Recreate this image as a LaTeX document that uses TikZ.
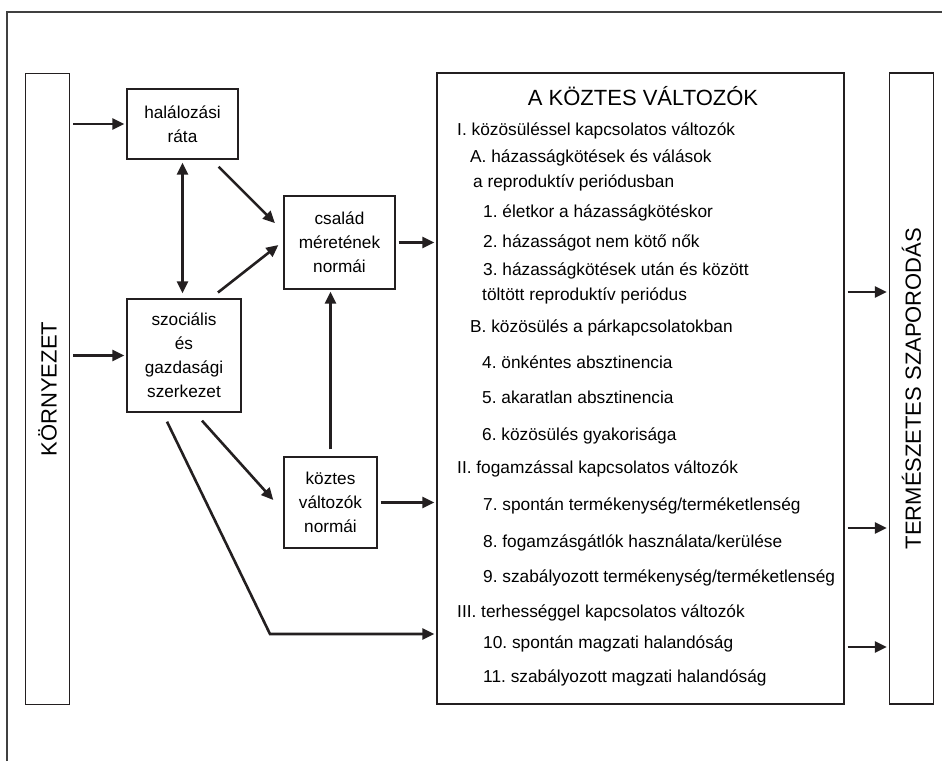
\documentclass[tikz,border=0pt]{standalone}
\usepackage{fontspec}
\setmainfont{Liberation Sans}
\usetikzlibrary{arrows.meta,positioning}
\definecolor{linegrey}{RGB}{35,31,32}
\frenchspacing

\begin{document}
\begin{tikzpicture}[x=1pt, y=-1pt,
    box/.style={rectangle, draw=linegrey, line width=1.3pt, align=center,
                font=\fontsize{17.2}{24}\selectfont, inner sep=0pt},
    side/.style={rectangle, draw=linegrey, line width=1.3pt, minimum width=44pt,
                minimum height=631pt, font=\fontsize{22}{26}\selectfont, inner sep=0pt},
    item/.style={anchor=base west, inner sep=0pt, font=\fontsize{17.3}{20}\selectfont},
    arr/.style={-{Triangle[length=12pt,width=11pt]}, line width=2.6pt, linegrey,
                shorten <=3pt, shorten >=2pt},
    frame/.style={line width=1.3pt, draw=black!75}
]
    \useasboundingbox (0,0) rectangle (942,761);
    \draw[frame] (7,761) -- (7,12) -- (942,12);

    % boxes
    \node[side] (env) at (47.5,389) {\rotatebox{90}{KÖRNYEZET}};
    \node[box, minimum width=111pt, minimum height=70pt]  (halal)  at (182.5,124)   {halálozási\\ráta};
    \node[box, minimum width=111pt, minimum height=93pt]  (csalad) at (339.5,242.5) {család\\méretének\\normái};
    \node[box, minimum width=114pt, minimum height=113pt] (szoc)   at (184,355.5)   {szociális\\és\\gazdasági\\szerkezet};
    \node[box, minimum width=93pt,  minimum height=91pt]  (koztes) at (330.5,502.5) {köztes\\változók\\normái};
    \node[box, minimum width=407pt, minimum height=631pt] (main)   at (640.5,388.5) {};
    \node[side] (term) at (911.5,388.5) {\rotatebox{90}{TERMÉSZETES SZAPORODÁS}};

    % list of the intermediate variables
    \node[anchor=base, inner sep=0pt, font=\fontsize{22}{26}\selectfont] (title) at (643,105) {A KÖZTES VÁLTOZÓK};
    \node[item] (grpI)   at (457,135) {I. közösüléssel kapcsolatos változók};
    \node[item] (subA)   at (470,162) {A. házasságkötések és válások};
    \node[item] (subAb)  at (473,187) {a reproduktív periódusban};
    \node[item] (v1)     at (483,217) {1. életkor a házasságkötéskor};
    \node[item] (v2)     at (483,247) {2. házasságot nem kötő nők};
    \node[item] (v3)     at (483,275) {3. házasságkötések után és között};
    \node[item] (v3b)    at (482,300) {töltött reproduktív periódus};
    \node[item] (subB)   at (470,332) {B. közösülés a párkapcsolatokban};
    \node[item] (v4)     at (482,368) {4. önkéntes absztinencia};
    \node[item] (v5)     at (482,403) {5. akaratlan absztinencia};
    \node[item] (v6)     at (482,440) {6. közösülés gyakorisága};
    \node[item] (grpII)  at (457,473) {II. fogamzással kapcsolatos változók};
    \node[item] (v7)     at (483,510) {7. spontán termékenység/terméketlenség};
    \node[item] (v8)     at (483,547) {8. fogamzásgátlók használata/kerülése};
    \node[item] (v9)     at (483,582) {9. szabályozott termékenység/terméketlenség};
    \node[item] (grpIII) at (457,617) {III. terhességgel kapcsolatos változók};
    \node[item] (v10)    at (483,648) {10. spontán magzati halandóság};
    \node[item] (v11)    at (483,682) {11. szabályozott magzati halandóság};

    % connectors
    \draw[arr] (env.east |- halal.west) -- (halal.west);
    \draw[arr] (env.east |- szoc.west)  -- (szoc.west);
    \draw[arr, {Triangle[length=12pt,width=11pt]}-{Triangle[length=12pt,width=11pt]}, shorten >=5pt]
        (halal.south) -- (halal.south |- szoc.north);
    \draw[arr] ([xshift=34pt,yshift=-5pt]halal.south) -- ([xshift=-7pt,yshift=18pt]csalad.west);
    \draw[arr] ([xshift=31.6pt,yshift=4pt]szoc.north) -- ([xshift=-3.4pt,yshift=-1.3pt]csalad.west);
    \draw[arr] (csalad.east) -- (csalad.east -| main.west);
    \draw[arr] ([yshift=4pt]koztes.north) -- (koztes.north |- csalad.south);
    \draw[arr] ([xshift=16pt,yshift=-5.8pt]szoc.south) -- ([xshift=-8.7pt,yshift=1pt]koztes.west);
    \draw[arr] (koztes.east) -- (koztes.east -| main.west);
    \coordinate (bend) at (270,634);
    \draw[arr] ([xshift=-18.3pt,yshift=-6.3pt]szoc.south) -- (bend) -- (main.west |- bend);
    \draw[arr] ([yshift=96.5pt]main.east)  -- ([yshift=96.5pt]term.west);
    \draw[arr] ([yshift=-139.5pt]main.east) -- ([yshift=-139.5pt]term.west);
    \draw[arr] ([yshift=-258.5pt]main.east) -- ([yshift=-258.5pt]term.west);
\end{tikzpicture}
\end{document}
